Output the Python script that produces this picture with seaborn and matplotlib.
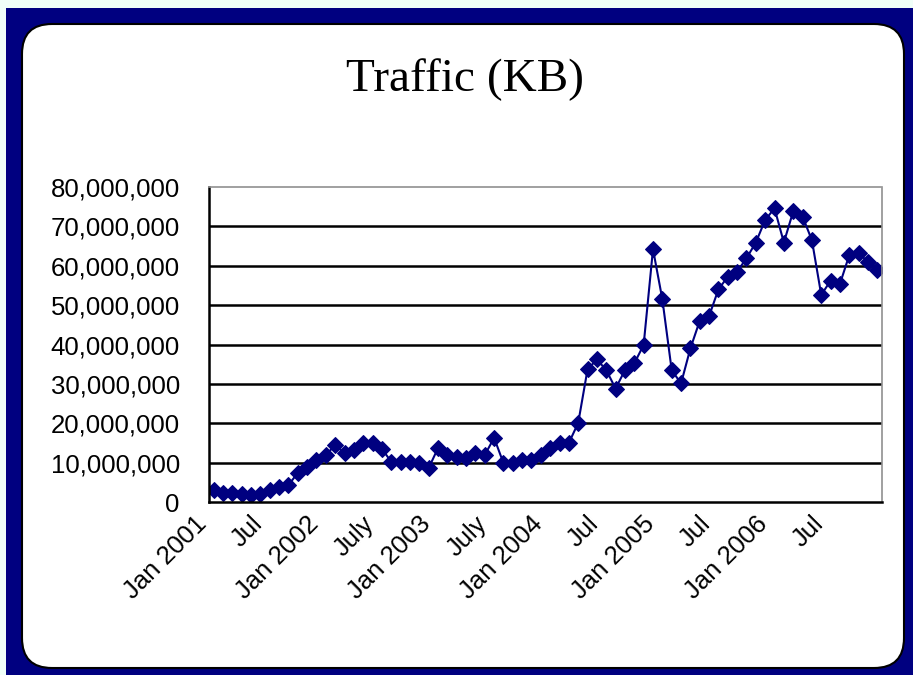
import numpy as np
import pandas as pd
import matplotlib
matplotlib.use("Agg")
import matplotlib.pyplot as plt
import seaborn as sns
from matplotlib.patches import Rectangle, FancyBboxPatch
from matplotlib.ticker import FuncFormatter, FixedLocator
from matplotlib.transforms import ScaledTranslation

# ---- data (KB, in millions) ----
traffic_2001 = [3.0, 2.3, 2.2, 2.0, 1.8, 2.0, 3.0, 3.8, 4.3, 7.4, 8.9, 10.7]
traffic_2002 = [11.9, 14.5, 12.4, 13.2, 15.0, 15.0, 13.5, 10.2, 10.2, 10.2, 9.9, 8.6]
traffic_2003 = [13.7, 11.9, 11.4, 11.2, 12.4, 11.9, 16.3, 9.9, 9.9, 10.7, 10.7, 11.9]
traffic_2004 = [13.7, 15.0, 15.0, 20.1, 33.7, 36.2, 33.5, 28.8, 33.5, 35.2, 39.9, 64.2]
traffic_2005 = [51.5, 33.5, 30.1, 39.0, 46.0, 47.2, 54.0, 57.2, 58.5, 61.9, 65.9, 71.6]
traffic_2006 = [74.6, 65.9, 73.8, 72.5, 66.5, 52.6, 56.2, 55.4, 62.7, 63.2, 61.0, 58.9]

tick_labels = ["Jan 2001", "Jul", "Jan 2002", "July", "Jan 2003", "July",
               "Jan 2004", "Jul", "Jan 2005", "Jul", "Jan 2006", "Jul"]
label_every = 6
title_text = "Traffic (KB)"

values = (traffic_2001 + traffic_2002 + traffic_2003 +
          traffic_2004 + traffic_2005 + traffic_2006)
df = pd.DataFrame({"month": np.arange(len(values)),
                   "kb": np.array(values) * 1e6})

NAVY = "#000080"
W, H, DPI = 913, 675, 100

sns.set_style("white")
plt.rcParams["font.family"] = ["Liberation Sans", "DejaVu Sans"]

fig = plt.figure(figsize=(W / DPI, H / DPI), dpi=DPI)

# ---- background frame ----
bg = fig.add_axes([0, 0, 1, 1], zorder=0)
bg.set_xlim(0, W)
bg.set_ylim(H, 0)
bg.axis("off")
bg.add_patch(Rectangle((0, 0), W, H, facecolor="#F0FFF8", edgecolor="none"))
bg.add_patch(Rectangle((6, 8), W - 6, H - 8, facecolor=NAVY, edgecolor="none"))
bg.add_patch(FancyBboxPatch((22, 24), 882, 644,
                            boxstyle="round,pad=0,rounding_size=30",
                            facecolor="white", edgecolor="black", linewidth=1.5))

# ---- plot area ----
left, right, top, bottom = 209, 882, 187, 502
ax = fig.add_axes([left / W, 1 - bottom / H, (right - left) / W, (bottom - top) / H],
                  zorder=2)
ax.set_facecolor("white")

sns.lineplot(data=df, x="month", y="kb", ax=ax, color=NAVY, linewidth=1.5,
             marker="D", markersize=8, markeredgecolor=NAVY,
             markerfacecolor=NAVY)

n = len(values)
ax.set_xlim(-0.5, n - 0.5)
ax.set_ylim(0, 80e6)
ax.set_xlabel("")
ax.set_ylabel("")

# y axis
ax.yaxis.set_major_locator(FixedLocator(np.arange(0, 80e6 + 1, 10e6)))
ax.yaxis.set_major_formatter(FuncFormatter(lambda v, p: f"{v:,.0f}"))
ax.tick_params(axis="y", direction="out", length=5, width=1.5, color="black",
               pad=16, labelsize=18.5, labelcolor="black")
ax.yaxis.grid(True, color="black", linewidth=1.8)
gl = ax.get_ygridlines()
gl[0].set_visible(False)
gl[-1].set_visible(False)

# x axis
label_pos = np.arange(0, n, label_every)
ax.xaxis.set_major_locator(FixedLocator(label_pos))
ax.set_xticklabels(tick_labels[:len(label_pos)])
ax.xaxis.set_minor_locator(FixedLocator(np.arange(n + 1) - 0.5))
ax.tick_params(axis="x", which="major", length=0, pad=13, labelsize=18.5,
               labelcolor="black")
ax.tick_params(axis="x", which="minor", direction="out", length=8, width=1.5,
               color="black")
shift = ScaledTranslation(-8 / 72, 0, fig.dpi_scale_trans)
for lbl in ax.get_xticklabels():
    lbl.set_rotation(45)
    lbl.set_rotation_mode("anchor")
    lbl.set_ha("right")
    lbl.set_va("center")
    lbl.set_transform(lbl.get_transform() + shift)

# spines
for s in ["left", "bottom"]:
    ax.spines[s].set_color("black")
    ax.spines[s].set_linewidth(1.8)
for s in ["top", "right"]:
    ax.spines[s].set_color("#909090")
    ax.spines[s].set_linewidth(1.2)
    ax.spines[s].set_linestyle((0, (1, 1)))

# title
fig.text(465 / W, 1 - 80 / H, title_text, ha="center", va="center",
         fontsize=34, family=["Liberation Serif", "DejaVu Serif"], color="black")

fig.savefig("out.png", dpi=DPI)
